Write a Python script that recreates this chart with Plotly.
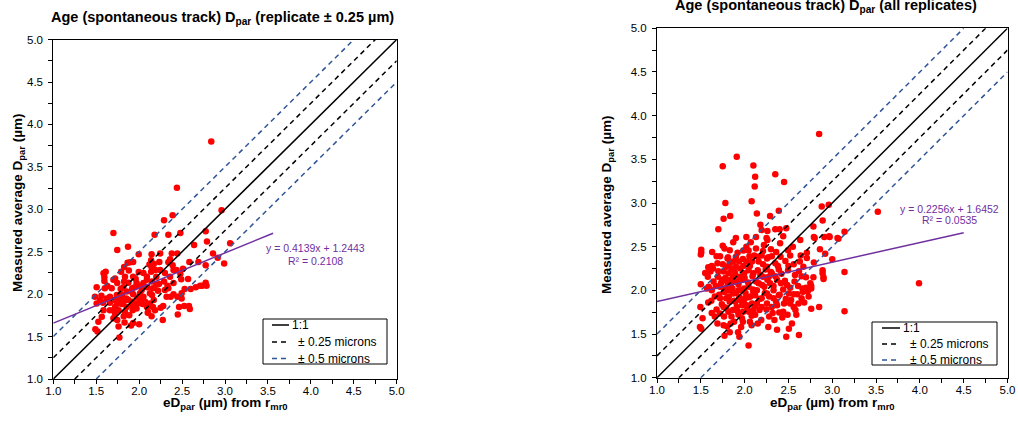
import plotly.graph_objects as go

# ---------------- data ----------------
left_ed = [2.84, 2.44, 2.96, 2.39, 2.29, 1.70, 1.745, 1.87, 2.18, 2.34, 2.48, 2.64, 2.775, 2.79, 3.06, 2.86,
           2.915, 2.99, 2.775, 2.69, 2.585, 2.51, 2.48, 2.49, 2.57, 2.60, 2.53, 2.495, 2.445, 2.495, 2.465,
           2.525, 2.58, 2.59, 2.45, 2.275, 2.28, 2.71, 2.775, 2.785, 2.735, 2.66, 2.435, 2.38, 2.445, 2.36,
           2.39, 2.34, 2.40, 2.36, 2.40, 2.34, 2.30, 2.367, 2.32, 2.29, 2.245, 2.235, 2.245, 2.145, 2.14,
           2.17, 2.145, 2.14, 2.19, 2.20, 2.15, 2.20, 2.16, 2.22, 2.17, 2.125, 2.09, 2.09, 2.095, 2.05, 2.03,
           2.05, 2.01, 2.04, 2.09, 2.105, 2.145, 2.185, 2.16, 2.125, 1.995, 1.93, 1.97, 1.95, 1.91, 1.93,
           1.875, 1.835, 1.79, 1.825, 1.865, 1.895, 1.93, 1.995, 1.825, 1.815, 1.785, 1.745, 1.72, 1.70,
           1.68, 1.74, 1.785, 1.76, 1.72, 1.76, 1.72, 1.70, 1.745, 1.76, 1.77, 1.83, 1.905, 1.93, 2.00,
           1.885, 1.835, 1.925, 1.97, 1.98, 1.925, 1.875, 1.825, 1.855, 1.915, 1.80, 1.70, 2.01, 1.855,
           1.80, 1.66, 1.60, 1.62, 1.56, 1.545, 1.58, 1.485, 1.505, 1.585, 1.61, 1.595, 1.595, 1.63, 1.515,
           1.49, 1.525, 1.565, 1.585, 1.66, 1.505, 2.05, 2.12, 1.96, 1.88, 2.23, 2.30, 1.78, 1.92, 2.02,
           1.85, 2.07, 2.25, 2.33, 2.15, 1.98, 1.73, 1.66, 1.82, 2.40, 2.10]
left_dpar = [3.80, 3.255, 2.99, 2.93, 2.87, 2.72, 2.52, 2.56, 2.70, 2.70, 2.72, 2.58, 2.74, 2.62, 2.60, 2.48,
             2.43, 2.36, 2.34, 2.38, 2.38, 2.30, 2.24, 2.175, 2.18, 2.06, 2.06, 2.01, 1.97, 1.95, 1.85,
             1.86, 1.86, 1.825, 1.76, 1.695, 1.86, 2.10, 2.135, 2.10, 2.10, 2.08, 2.285, 2.48, 2.48, 2.41,
             2.34, 2.375, 2.285, 2.205, 2.13, 2.07, 2.05, 1.97, 1.97, 2.15, 2.285, 2.38, 2.48, 2.47, 2.40,
             2.355, 2.32, 2.265, 2.285, 2.205, 2.15, 2.11, 2.07, 2.04, 1.93, 2.01, 2.17, 2.205, 2.08, 2.13,
             2.05, 1.97, 1.93, 1.885, 1.85, 1.79, 1.74, 1.81, 1.85, 1.89, 2.26, 2.205, 2.13, 2.08, 2.03,
             2.00, 2.135, 2.205, 2.265, 2.32, 2.37, 2.375, 2.38, 2.47, 2.15, 2.08, 2.06, 2.13, 2.185, 2.17,
             2.07, 1.99, 1.94, 1.89, 1.85, 1.81, 1.77, 1.715, 1.695, 1.62, 1.49, 1.665, 1.63, 1.66, 1.645,
             1.75, 1.79, 1.81, 1.83, 1.89, 1.91, 1.93, 1.92, 1.85, 1.87, 1.885, 1.81, 2.01, 2.03,
             1.99, 1.97, 2.07, 1.95, 1.98, 1.93, 1.90, 1.97, 2.08, 2.245, 2.265, 2.20, 2.155, 2.095, 1.56,
             1.585, 1.675, 1.735, 1.81, 1.81, 1.89, 2.25, 2.35, 2.18, 2.28, 2.12, 2.25, 1.97, 2.07, 2.10,
             1.95, 1.91, 1.84, 2.10, 1.99, 1.96, 1.92, 1.90, 1.74, 2.00, 1.78]

right_ed = [2.85, 1.91, 1.75, 2.10, 2.12, 2.115, 2.35, 2.45, 2.08, 1.78, 1.76, 1.835, 2.14, 2.39, 2.29, 2.88,
            2.96, 3.52, 1.70, 1.75, 1.77, 1.87, 2.18, 2.195, 2.26, 2.35, 2.40, 2.475, 2.13, 2.26, 2.405,
            2.635, 2.785, 2.80, 2.89, 2.91, 2.965, 3.06, 3.14, 3.00, 2.86, 2.92, 2.89, 2.90, 3.14, 3.14,
            2.85, 2.76, 2.62, 2.505, 2.475, 2.045, 1.505, 1.49, 1.495, 1.52, 1.50, 1.505, 1.505, 1.585,
            1.625, 1.69, 1.77, 1.83, 1.925, 1.94, 1.98, 2.06, 2.08, 2.12, 2.17, 2.28, 2.34, 2.395, 2.49,
            2.56, 2.615, 2.65, 2.665, 2.61, 2.725, 2.75, 2.785, 2.67, 2.63, 2.65, 2.575, 2.56, 2.52, 2.465,
            2.495, 2.495, 2.415, 2.44, 2.485, 2.505, 2.56, 2.60, 2.53, 2.45, 2.52, 2.58, 2.44, 2.37, 2.33,
            2.39, 2.33, 2.29, 2.37, 2.31, 2.39, 2.35, 2.41, 2.36, 2.31, 2.255, 2.195, 2.13, 2.15, 2.21,
            2.255, 2.275, 2.21, 2.15, 2.10, 2.16, 2.225, 2.255, 2.195, 2.255, 2.31, 2.195, 2.14, 2.10,
            2.05, 1.985, 1.93, 1.88, 1.84, 1.80, 1.765, 1.815, 1.76, 1.72, 1.66, 1.625, 1.59, 1.645, 1.58,
            1.61, 1.585, 1.625, 1.68, 1.72, 1.805, 1.83, 1.795, 1.85, 1.90, 1.88, 1.94, 1.995, 2.045,
            2.085, 2.055, 1.985, 2.045, 1.90, 1.935, 2.02, 1.985, 1.98, 1.91, 1.85, 1.80, 1.74, 1.695,
            1.72, 1.765, 1.825, 1.87, 1.93, 1.995, 2.045, 2.095, 2.12, 2.065, 2.005, 1.95, 1.895, 1.83,
            1.79, 1.91, 1.97, 2.025, 2.085, 1.865, 1.72, 1.66, 1.87, 1.815, 1.76, 2.79, 2.97, 3.07, 2.71,
            2.79, 2.71, 2.89, 2.90, 2.66, 2.70, 2.76, 2.72, 2.67, 2.71, 2.76, 3.99, 1.50, 1.55, 1.57, 1.62,
            1.64, 1.67, 1.68, 1.70, 1.71, 1.73, 1.74, 1.75, 1.77, 1.78, 1.79, 1.80, 1.81, 1.82, 1.84, 1.85,
            1.86, 1.87, 1.88, 1.89, 1.90, 1.92, 1.92, 1.93, 1.94, 1.95, 1.96, 1.97, 1.98, 1.99, 2.00, 2.01,
            2.02, 2.03, 2.04, 2.05, 2.06, 2.07, 2.08, 2.09, 2.10, 2.11, 2.12, 2.13, 2.14, 2.16, 2.17, 2.18,
            2.19, 2.20, 2.21, 2.22, 2.23, 2.24, 2.25, 2.26, 2.27, 2.28, 2.30, 2.30, 2.32, 2.33, 2.35, 2.36,
            2.38, 2.40, 2.42, 2.43, 2.44, 2.46, 2.47, 2.50, 2.52, 2.54, 2.55, 2.57, 2.59, 2.62, 2.64, 2.68,
            2.70, 2.73, 1.63, 1.69, 1.76, 1.83, 1.96, 2.15, 2.27, 2.37, 2.02, 1.90, 2.25]
right_dpar = [3.79, 3.53, 3.42, 3.43, 3.30, 3.19, 3.33, 3.24, 3.02, 3.00, 2.82, 2.85, 2.88, 2.91, 2.85, 2.96,
              2.98, 2.90, 2.70, 2.51, 2.48, 2.55, 2.75, 2.69, 2.68, 2.70, 2.70, 2.71, 2.61, 2.575, 2.54,
              2.575, 2.73, 2.60, 2.80, 2.61, 2.62, 2.60, 2.67, 2.355, 2.47, 2.42, 2.23, 2.15, 2.21, 1.76,
              1.81, 1.79, 1.49, 1.56, 1.47, 1.37, 1.56, 1.58, 1.81, 1.68, 2.07, 2.43, 2.465, 1.86,
              1.74, 1.62, 1.48, 1.52, 1.52, 1.47, 1.64, 1.64, 1.60, 1.72, 1.775, 1.70, 1.66, 1.745, 1.72,
              1.81, 1.85, 1.91, 1.985, 2.05, 2.01, 2.08, 2.15, 2.27, 2.33, 2.16, 2.175, 2.30, 2.40, 2.335,
              2.46, 2.23, 2.08, 2.01, 2.06, 1.965, 1.955, 1.955, 1.89, 1.85, 1.85, 1.775, 1.755, 1.83, 1.91,
              1.945, 2.00, 2.08, 2.12, 2.195, 2.24, 2.31, 2.385, 2.44, 2.39, 2.365, 2.40, 2.48, 2.385, 2.30,
              2.27, 2.155, 2.155, 2.23, 2.195, 2.08, 2.04, 1.965, 1.91, 1.85, 1.81, 1.81, 1.85, 1.775,
              1.755, 1.755, 1.72, 1.64, 1.62, 1.585, 1.70, 1.755, 1.81, 1.91, 1.93, 2.00, 2.04, 2.10, 2.155,
              2.215, 2.265, 2.28, 2.39, 2.39, 2.365, 2.31, 2.27, 2.25, 2.27, 2.215, 2.155, 2.195, 2.23,
              2.33, 2.39, 2.455, 2.455, 2.385, 2.33, 2.33, 2.28, 2.12, 2.10, 2.08, 2.10, 2.12, 2.155,
              2.04, 2.01, 2.00, 1.965, 2.00, 2.02, 2.04, 2.01, 1.945, 1.93, 1.91, 1.89, 1.87, 1.87,
              1.91, 1.81, 1.83, 1.83, 1.85, 1.775, 1.735, 1.70, 2.155, 2.195, 2.215, 2.61, 2.61, 2.59, 2.43,
              2.32, 2.37, 2.195, 2.13, 2.02, 2.03, 2.02, 1.99, 1.99, 2.00, 2.05, 2.08, 2.41, 2.20, 2.02, 1.88,
              2.25, 2.05, 1.78, 2.22, 1.95, 2.08, 1.84, 2.30, 1.98, 2.14, 1.80, 2.04, 2.38, 1.93, 2.12, 1.70,
              2.02, 2.33, 1.88, 2.20, 1.97, 2.43, 1.76, 2.07, 1.92, 2.25, 2.00, 1.68, 2.36, 1.86, 2.14, 1.97,
              2.50, 1.79, 2.09, 1.92, 2.28, 2.55, 1.71, 2.16, 1.98, 2.40, 1.82, 2.10, 2.00, 2.33, 1.90, 2.18,
              1.66, 2.06, 2.45, 2.52, 1.97, 2.24, 1.78, 2.12, 2.38, 1.93, 2.47, 2.21, 1.74, 2.05, 2.16, 1.87,
              2.28, 1.95, 2.19, 1.69, 2.62, 2.11, 1.90, 2.28, 2.03, 1.62, 2.50, 2.10, 1.72, 2.22, 2.40, 1.86,
              2.15, 1.93, 2.44, 2.31, 1.60, 2.46, 1.58, 1.62, 1.58, 1.55, 2.61, 2.60, 2.60]

left_fit = {"slope": 0.4139, "intercept": 1.2443, "r2": 0.2108, "x_start": 1.0, "x_end": 3.56}
right_fit = {"slope": 0.2256, "intercept": 1.6452, "r2": 0.0535, "x_start": 1.0, "x_end": 4.50}

axis_min, axis_max = 1.0, 5.0
offsets = [0.25, 0.5]
tick_vals = [1.0, 1.5, 2.0, 2.5, 3.0, 3.5, 4.0, 4.5, 5.0]
tick_text = ["1.0", "1.5", "2.0", "2.5", "3.0", "3.5", "4.0", "4.5", "5.0"]

left_title = "Age (spontaneous track) D<sub>par</sub> (replicate ± 0.25 µm)"
right_title = "Age (spontaneous track) D<sub>par</sub> (all replicates)"
x_title = "eD<sub>par</sub> (µm) from r<sub>mr0</sub>"
y_title = "Measured average D<sub>par</sub> (µm)"
legend_labels = ["1:1", "± 0.25 microns", "± 0.5 microns"]

# ---------------- style ----------------
W, H = 1018, 426
FONT = "Arial, Liberation Sans, sans-serif"
RED = "#FF0000"
BLUE = "#2F5597"
PURPLE = "#7030A0"
DASH = "5px,4px"


def px(x):
    return x / W


def py(y):
    return 1 - y / H


fig = go.Figure()


def add_panel(xa, ya, ed, dpar, fit, eq_pos):
    fig.add_trace(go.Scatter(x=ed, y=dpar, mode="markers", xaxis=xa, yaxis=ya,
                             marker=dict(color=RED, size=6.5, line=dict(width=0)), showlegend=False))
    fig.add_trace(go.Scatter(x=[axis_min, axis_max], y=[axis_min, axis_max], mode="lines",
                             xaxis=xa, yaxis=ya, line=dict(color="black", width=1.5), showlegend=False))
    for d, col in zip(offsets, ["black", BLUE]):
        fig.add_trace(go.Scatter(x=[axis_min, axis_max - d], y=[axis_min + d, axis_max], mode="lines",
                                 xaxis=xa, yaxis=ya, line=dict(color=col, width=1.5, dash=DASH),
                                 showlegend=False))
        fig.add_trace(go.Scatter(x=[axis_min + d, axis_max], y=[axis_min, axis_max - d], mode="lines",
                                 xaxis=xa, yaxis=ya, line=dict(color=col, width=1.5, dash=DASH),
                                 showlegend=False))
    fx = [fit["x_start"], fit["x_end"]]
    fy = [fit["slope"] * v + fit["intercept"] for v in fx]
    fig.add_trace(go.Scatter(x=fx, y=fy, mode="lines", xaxis=xa, yaxis=ya,
                             line=dict(color=PURPLE, width=1.5), showlegend=False))
    ex, ey1, ey2 = eq_pos
    fig.add_annotation(x=ex, y=ey1, xref=xa, yref=ya, showarrow=False,
                       text=f"y = {fit['slope']:.4f}x + {fit['intercept']:.4f}",
                       font=dict(family=FONT, size=10.5, color=PURPLE))
    fig.add_annotation(x=ex, y=ey2, xref=xa, yref=ya, showarrow=False,
                       text=f"R² = {fit['r2']:.4f}",
                       font=dict(family=FONT, size=10.5, color=PURPLE))


add_panel("x", "y", left_ed, left_dpar, left_fit, (4.05, 2.54, 2.395))
add_panel("x2", "y2", right_ed, right_dpar, right_fit, (4.34, 2.93, 2.80))

axis_common = dict(range=[axis_min, axis_max], tickvals=tick_vals, ticktext=tick_text,
                   ticks="outside", ticklen=4, tickwidth=1, tickcolor="black",
                   minor=dict(dtick=0.25, tick0=1.0, ticks="outside", ticklen=4, tickcolor="black"),
                   showline=True, linecolor="black", linewidth=1, mirror=True,
                   showgrid=False, zeroline=False, automargin=False,
                   tickfont=dict(family=FONT, size=11.5, color="black"))

fig.update_layout(
    width=W, height=H, margin=dict(l=0, r=0, t=0, b=0, pad=0, autoexpand=False),
    paper_bgcolor="white", plot_bgcolor="white", showlegend=False,
    xaxis=dict(domain=[px(53.3), px(396.7)], anchor="y", ticklabelstandoff=-3, **axis_common),
    yaxis=dict(domain=[py(379.0), py(39.6)], anchor="x", ticklabelstandoff=3, **axis_common),
    xaxis2=dict(domain=[px(657.0), px(1007.5)], anchor="y2", ticklabelstandoff=-3, **axis_common),
    yaxis2=dict(domain=[py(377.7), py(28.3)], anchor="x2", ticklabelstandoff=3, **axis_common),
)

# chart titles
for x, y, t in [(222, 18, left_title), (826, 6, right_title)]:
    fig.add_annotation(x=px(x), y=py(y), xref="paper", yref="paper", showarrow=False,
                       text=f"<b>{t}</b>", font=dict(family=FONT, size=14.5, color="black"),
                       xanchor="center", yanchor="middle")
# axis titles
for x, y in [(225, 403), (832, 403)]:
    fig.add_annotation(x=px(x), y=py(y), xref="paper", yref="paper", showarrow=False,
                       text=f"<b>{x_title}</b>", font=dict(family=FONT, size=13.5, color="black"),
                       xanchor="center", yanchor="middle")
for x, y in [(18, 203), (608, 205)]:
    fig.add_annotation(x=px(x), y=py(y), xref="paper", yref="paper", showarrow=False, textangle=-90,
                       text=f"<b>{y_title}</b>", font=dict(family=FONT, size=13.5, color="black"),
                       xanchor="center", yanchor="middle")

# custom legends (box, line samples, labels)
legend_specs = [
    ((263, 319, 387, 364), 272, 289, [325, 342, 358.5], 289.5, 296),
    ((872, 322, 997, 365), 882, 900, [328, 344, 360], 900.5, 908),
]
styles = [("black", None), ("black", DASH), (BLUE, DASH)]
for (bx0, by0, bx1, by1), sx0, sx1, rows, tx0, tx in legend_specs:
    fig.add_shape(type="rect", xref="paper", yref="paper", x0=px(bx0), x1=px(bx1), y0=py(by1), y1=py(by0),
                  line=dict(color="black", width=1), fillcolor="white", layer="above")
    for i, ((col, dash), ry, lab) in enumerate(zip(styles, rows, legend_labels)):
        fig.add_shape(type="line", xref="paper", yref="paper", x0=px(sx0), x1=px(sx1), y0=py(ry), y1=py(ry),
                      line=dict(color=col, width=1.5, dash=dash if dash else "solid"), layer="above")
        fig.add_annotation(x=px(tx0 if i == 0 else tx), y=py(ry), xref="paper", yref="paper", showarrow=False,
                           text=lab, xanchor="left", yanchor="middle",
                           font=dict(family=FONT, size=12, color="black"))

fig.write_html("out.html", config={"displayModeBar": False},
               post_script="document.body.style.margin='0px';document.body.style.overflow='hidden';")
